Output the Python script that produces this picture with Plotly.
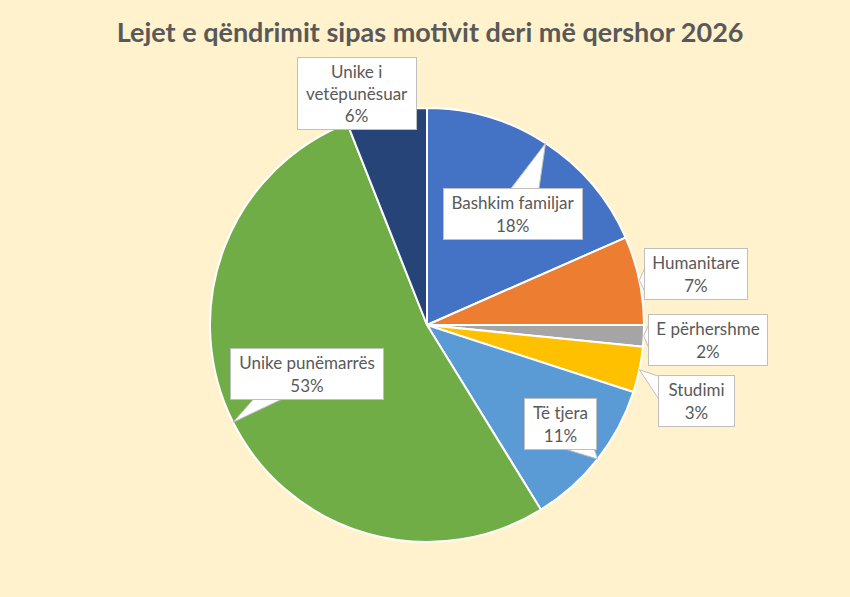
import math
import plotly.graph_objects as go

# te dhenat (perqindje te lexuara nga grafiku)
labels = ["Bashkim familjar", "Humanitare", "E përhershme", "Studimi",
          "Të tjera", "Unike punëmarrës", "Unike i vetëpunësuar"]
values = [18.4, 6.6, 1.6, 3.4, 11.2, 52.8, 6.0]
colors = ["#4472C4", "#ED7D31", "#A5A5A5", "#FFC000",
          "#5B9BD5", "#70AD47", "#264478"]
box_text = ["Bashkim familjar", "Humanitare", "E përhershme", "Studimi",
            "Të tjera", "Unike punëmarrës", "Unike i<br>vetëpunësuar"]

W, H = 850, 597
cx, cy, R = 427, 325, 217          # qendra dhe rrezja e pites ne piksel
# qendrat dhe madhesite e kutive te etiketave (piksel)
box_pos = [(513, 214), (696, 274), (708, 340), (696, 401),
           (560, 424), (307, 374), (357, 93)]
box_size = [(140, 52), (104, 52), (120, 52), (77, 52),
            (73, 52), (154, 52), (120, 73)]

fig = go.Figure(go.Pie(
    labels=labels, values=values, sort=False, direction="clockwise",
    rotation=0, marker=dict(colors=colors, line=dict(color="white", width=2)),
    textinfo="none", hoverinfo="label+percent", showlegend=False,
    domain=dict(x=[(cx - R) / W, (cx + R) / W],
                y=[(H - cy - R) / H, (H - cy + R) / H]),
))


def to_paper(x, y):
    return f"{x / W:.5f},{1 - y / H:.5f}"


total = sum(values)
cum = 0
shapes, annotations = [], []
for txt, v, (bx, by), (bw, bh) in zip(box_text, values, box_pos, box_size):
    mid = (cum + v / 2) / total * 2 * math.pi
    cum += v
    tx = cx + R * math.sin(mid)
    ty = cy - R * math.cos(mid)
    hw, hh = bw / 2, bh / 2
    dx, dy = tx - bx, ty - by
    if abs(dx) > hw or abs(dy) > hh:
        # shigjeta e etiketes: nga buza e kutise te pika ne buze te pites
        tvx = hw / abs(dx) if dx else 1e9
        tvy = hh / abs(dy) if dy else 1e9
        if tvx < tvy:
            ex = bx + math.copysign(hw - 0.5, dx)
            ey = by + dy * tvx
            ey = min(max(ey, by - hh + 12), by + hh - 12)
            b1, b2 = (ex, ey - 11), (ex, ey + 11)
        else:
            ey = by + math.copysign(hh - 0.5, dy)
            ex = bx + dx * tvy
            ex = min(max(ex, bx - hw + 16), bx + hw - 16)
            b1, b2 = (ex - 14, ey), (ex + 14, ey)
        path = f"M {to_paper(*b1)} L {to_paper(tx, ty)} L {to_paper(*b2)}"
        shapes.append(dict(type="path", xref="paper", yref="paper", path=path,
                           fillcolor="white", line=dict(color="#BFBFBF", width=1),
                           layer="above"))
    pct = round(v / total * 100)
    annotations.append(dict(
        x=bx / W, y=1 - by / H, xref="paper", yref="paper",
        xanchor="center", yanchor="middle",
        width=bw - 2, height=bh - 2, align="center", valign="middle",
        text=f"{txt}<br>{pct}%", showarrow=False,
        font=dict(family="Lato, Open Sans, sans-serif", size=17, color="#595959"),
        bgcolor="white", bordercolor="#BFBFBF", borderwidth=1, borderpad=0,
    ))

fig.update_layout(
    width=W, height=H,
    paper_bgcolor="#FFF2CC", plot_bgcolor="#FFF2CC",
    margin=dict(l=0, r=0, t=0, b=0),
    title=dict(text="<b>Lejet e qëndrimit sipas motivit deri më qershor 2026</b>",
               x=0.506, xanchor="center", y=1 - 33 / H, yanchor="middle",
               font=dict(family="Lato, Open Sans, sans-serif", size=27, color="#595959")),
    shapes=shapes, annotations=annotations,
)

fig.write_html("out.html", config={"displayModeBar": False},
               post_script="document.body.style.margin='0';")
